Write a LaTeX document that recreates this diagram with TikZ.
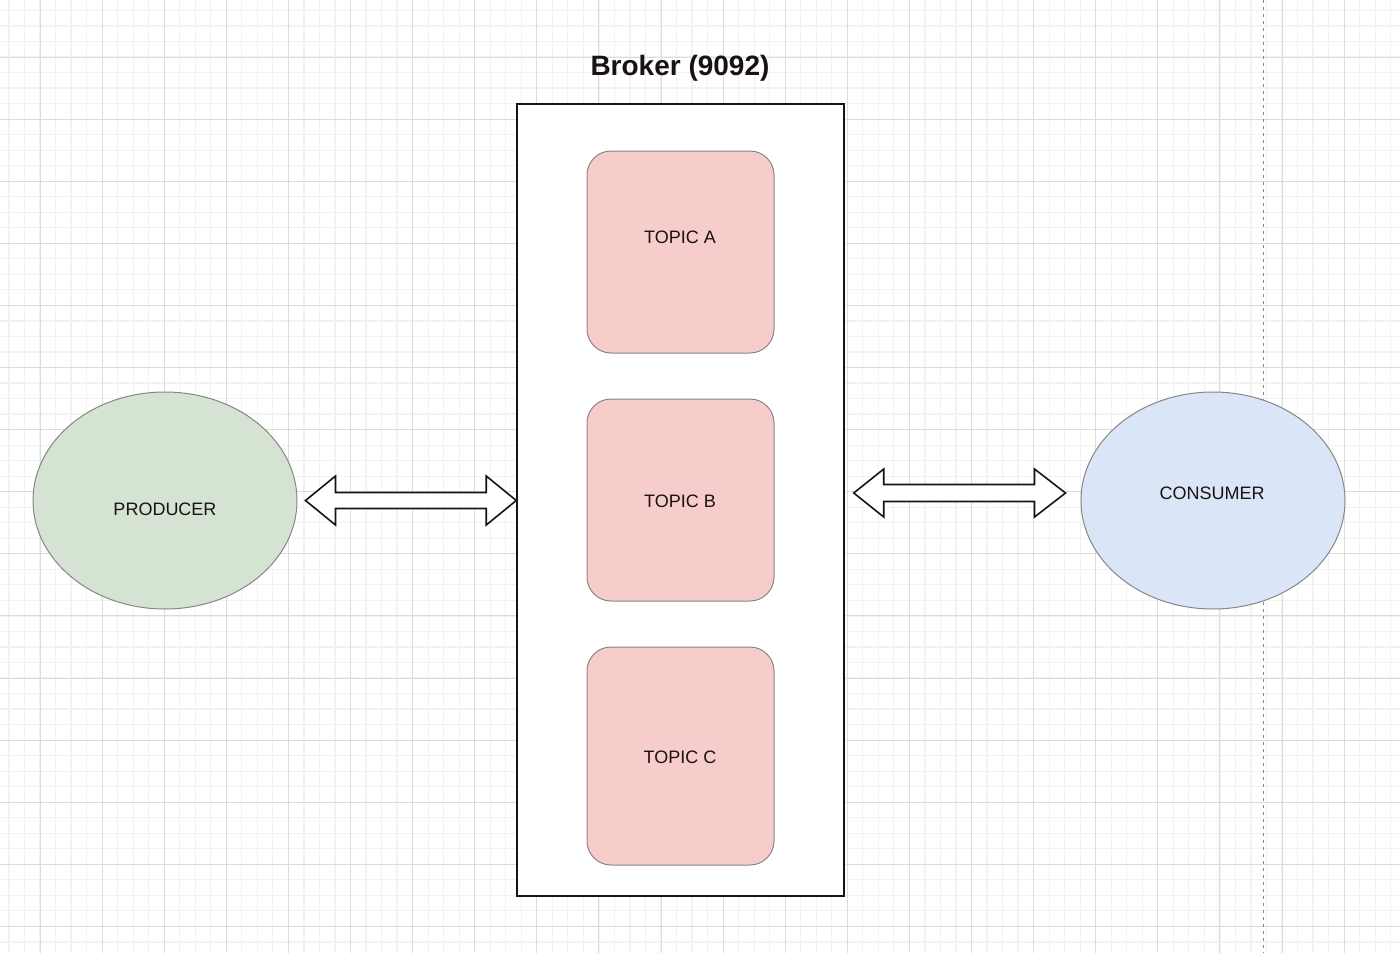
\documentclass[tikz,border=0pt]{standalone}
\usepackage{fontspec}
\setmainfont{Liberation Sans}
\usetikzlibrary{shapes.geometric,calc}
\definecolor{txt}{HTML}{1A1212}
\definecolor{minorgrid}{HTML}{F1F2F2}
\definecolor{majorgrid}{HTML}{D8DEDC}
\definecolor{prodfill}{HTML}{D5E3D3}
\definecolor{consfill}{HTML}{DAE6F8}
\definecolor{topicfill}{HTML}{F6CDCB}
\definecolor{edge}{HTML}{8A8585}
\tikzset{
  ellnode/.style={ellipse, draw=edge, line width=1pt, minimum width=264pt, minimum height=217pt, inner sep=0pt},
  topicbox/.style={rectangle, rounded corners=24pt, draw=edge, fill=topicfill, line width=1pt, minimum width=187pt, inner sep=0pt},
  lbl/.style={font=\fontsize{18pt}{20pt}\selectfont, text=txt, inner sep=0pt},
  blockarr/.style={draw=txt, fill=white, line width=1.6pt, line join=miter},
}
\begin{document}
\begin{tikzpicture}[x=1pt,y=-1pt]
\useasboundingbox (0,0) rectangle (1400,953);
\fill[white] (0,0) rectangle (1400,953);
% grid
\foreach \i in {-3,...,88} {
  \draw[minorgrid, line width=1.2pt] ({40+15.525*\i},0) -- ({40+15.525*\i},953);
}
\foreach \j in {-4,...,58} {
  \draw[minorgrid, line width=1.2pt] (0,{57+15.525*\j}) -- (1400,{57+15.525*\j});
}
\foreach \i in {-1,...,22} {
  \draw[majorgrid, line width=1pt] ({40+62.1*\i},0) -- ({40+62.1*\i},953);
}
\foreach \j in {-1,...,15} {
  \draw[majorgrid, line width=1pt] (0,{57+62.1*\j}) -- (1400,{57+62.1*\j});
}
\draw[edge, line width=1pt, dash pattern=on 3pt off 4pt] (1263,0) -- (1263,953);

% broker
\node[rectangle, draw=txt, fill=white, line width=1.5pt, minimum width=327pt, minimum height=792pt, inner sep=0pt] (broker) at (680.5,500) {};
\node[font=\bfseries\fontsize{28pt}{30pt}\selectfont, text=txt, inner sep=0pt] (brokertitle) at (680,68.5) {Broker (9092)};

% topics
\node[topicbox, minimum height=202pt] (topa) at (680.5,252) {};
\node[topicbox, minimum height=202pt] (topb) at (680.5,500) {};
\node[topicbox, minimum height=218pt] (topc) at (680.5,756) {};
\node[lbl] (topatxt) at (680,237) {TOPIC A};
\node[lbl] (topbtxt) at (680,501) {TOPIC B};
\node[lbl] (topctxt) at (680,757) {TOPIC C};

% producer / consumer
\node[ellnode, fill=prodfill] (prod) at (165,500.5) {};
\node[ellnode, fill=consfill] (cons) at (1213,500.5) {};
\node[lbl] (prodtxt) at (165,509) {PRODUCER};
\node[lbl] (constxt) at (1212,493) {CONSUMER};

% block arrows
\coordinate (la) at ($(prod.east)+(8,0)$);
\coordinate (lb) at (broker.west |- la);
\coordinate (ra) at ($(broker.east)+(9,-7)$);
\coordinate (rb) at ($(cons.west |- ra)+(-15,0)$);
\draw[blockarr] (la) -- ($(la)+(30,-24.5)$) -- ($(la)+(30,-8)$) -- ($(lb)+(-30,-8)$) -- ($(lb)+(-30,-24.5)$) -- (lb)
  -- ($(lb)+(-30,24.5)$) -- ($(lb)+(-30,8)$) -- ($(la)+(30,8)$) -- ($(la)+(30,24.5)$) -- cycle;
\draw[blockarr] (ra) -- ($(ra)+(30,-24)$) -- ($(ra)+(30,-8.5)$) -- ($(rb)+(-31,-8.5)$) -- ($(rb)+(-31,-24)$) -- (rb)
  -- ($(rb)+(-31,24)$) -- ($(rb)+(-31,8.5)$) -- ($(ra)+(30,8.5)$) -- ($(ra)+(30,24)$) -- cycle;
\end{tikzpicture}
\end{document}
